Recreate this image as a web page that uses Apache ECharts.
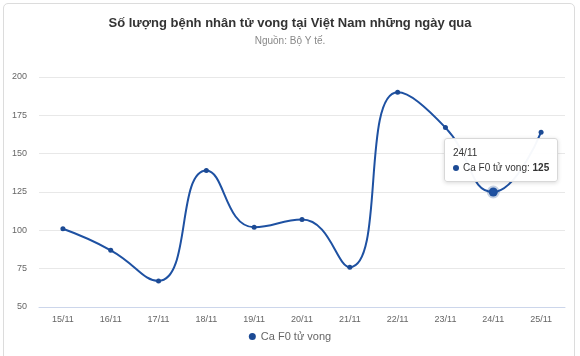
<!DOCTYPE html>
<html><head><meta charset="utf-8">
<script src="https://cdn.jsdelivr.net/npm/echarts@6/dist/echarts.min.js"></script>
<style>
html,body{margin:0;padding:0;background:#fff;}
#frame{position:absolute;left:3px;top:3px;width:572px;height:360px;border:1px solid #dcdcdc;border-radius:5px;box-sizing:border-box;}
#c{position:absolute;left:0;top:0;width:580px;height:356px;}
</style></head>
<body>
<div id="frame"></div>
<div id="c"></div>
<script>
const categories = ['15/11','16/11','17/11','18/11','19/11','20/11','21/11','22/11','23/11','24/11','25/11'];
const deaths = [101, 87, 67, 139, 102, 107, 76, 190, 167, 125, 164];
const seriesName = 'Ca F0 tử vong';
const titleText = 'Số lượng bệnh nhân tử vong tại Việt Nam những ngày qua';
const subText = 'Nguồn: Bộ Y tế.';
const color = '#1c4a94';

const chart = echarts.init(document.getElementById('c'));
chart.setOption({
  animation: false,
  textStyle: {fontFamily: 'Liberation Sans, Arial, sans-serif'},
  title: {
    text: titleText, subtext: subText, left: 'center', top: 12, itemGap: 6,
    textStyle: {fontSize: 13, fontWeight: 'bold', color: '#333'},
    subtextStyle: {fontSize: 10, color: '#888'}
  },
  legend: {
    bottom: 9, left: 'center', icon: 'circle', itemWidth: 7, itemHeight: 7, itemGap: 5,
    textStyle: {fontSize: 11, color: '#666'}
  },
  tooltip: {
    trigger: 'item', alwaysShowContent: true,
    backgroundColor: 'rgba(255,255,255,0.96)', borderColor: '#d8d8d8', borderWidth: 1,
    padding: [6, 8],
    extraCssText: 'box-shadow:0 1px 4px rgba(0,0,0,0.15);border-radius:3px;',
    textStyle: {fontSize: 10, color: '#333'},
    position: function (pt) { return [pt[0] - 49, pt[1] - 54]; },
    formatter: function (p) {
      return '<div style="line-height:15px;font-size:10px">' + p.name + '<br/><span style="display:inline-block;width:6px;height:6px;border-radius:50%;background:' + color + ';margin-right:4px;vertical-align:middle"></span>' + p.seriesName + ': <b>' + p.value + '</b></div>';
    }
  },
  grid: {left: 39, right: 15, top: 77, bottom: 49},
  xAxis: {
    type: 'category', data: categories, boundaryGap: true,
    axisLine: {lineStyle: {color: '#ccd6eb'}},
    axisTick: {show: false},
    axisLabel: {fontSize: 9, color: '#666', margin: 8}
  },
  yAxis: {
    type: 'value', min: 50, max: 200, interval: 25,
    axisLine: {show: false}, axisTick: {show: false},
    splitLine: {lineStyle: {color: '#e8e8e8'}},
    axisLabel: {fontSize: 9, color: '#666', margin: 12}
  },
  series: [{
    name: seriesName, type: 'line', data: deaths, smooth: 0.5,
    symbol: 'circle', symbolSize: 5,
    itemStyle: {color: color},
    lineStyle: {color: color, width: 2},
    emphasis: {scale: 1.8, itemStyle: {borderColor: 'rgba(28,74,148,0.25)', borderWidth: 4}}
  }]
});
setTimeout(function(){
  chart.dispatchAction({type: 'highlight', seriesIndex: 0, dataIndex: 9});
  chart.dispatchAction({type: 'showTip', seriesIndex: 0, dataIndex: 9});
}, 50);
</script>
</body></html>
